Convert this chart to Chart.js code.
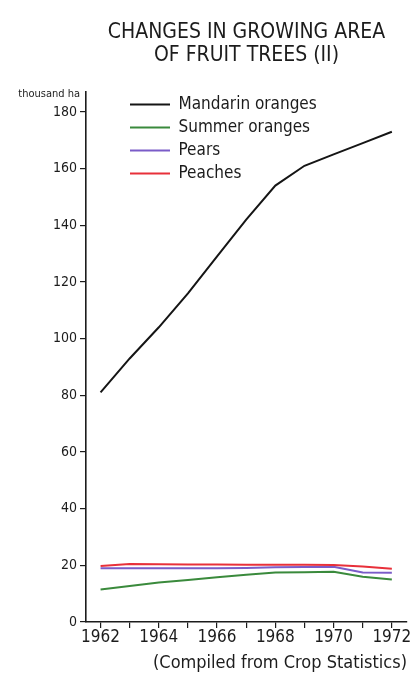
<!DOCTYPE html>
<html>
<head>
<meta charset="utf-8">
<script src="https://cdn.jsdelivr.net/npm/chart.js@4.4.1/dist/chart.umd.min.js"></script>
<style>
  html, body { margin: 0; padding: 0; background: #fff; }
  #wrap { width: 410px; height: 680px; }
</style>
</head>
<body>
<div id="wrap"><canvas id="fruitChart"></canvas></div>
<script>
// Values (thousand ha)
const years = [1962, 1963, 1964, 1965, 1966, 1967, 1968, 1969, 1970, 1971, 1972];
const tickLabels = ['1962', '', '1964', '', '1966', '', '1968', '', '1970', '', '1972'];
const mandarin = [81, 93, 104, 116, 129, 142, 154, 161, 165, 169, 173];
const summerOranges = [11.5, 12.7, 13.9, 14.8, 15.8, 16.7, 17.5, 17.6, 17.7, 16.0, 15.0];
const pears = [19.0, 19.0, 19.0, 19.0, 19.0, 19.1, 19.3, 19.4, 19.5, 17.5, 17.4];
const peaches = [19.8, 20.5, 20.4, 20.3, 20.3, 20.2, 20.2, 20.2, 20.1, 19.6, 18.8];

const FONT = '"Liberation Sans Narrow", "DejaVu Sans Condensed", "DejaVu Sans", sans-serif';
const INK = '#1c1c1c';

Chart.defaults.font.family = FONT;
Chart.defaults.color = INK;

const toPoints = (vals) => vals.map((v, i) => ({ x: years[i], y: v }));

const series = (label, vals, color, order) => ({
    label,
    data: toPoints(vals),
    borderColor: color,
    backgroundColor: color,
    pointBorderColor: color,
    pointBorderWidth: 2,
    order
});

// unit label above the y axis, and legend nudged into place
const extras = {
    id: 'extras',
    afterLayout(chart) {
        const area = chart.chartArea;
        chart.legend.left = area.left + 38;
        chart.legend.top = area.top - 2;
    },
    afterDraw(chart) {
        const ctx = chart.ctx;
        const y = chart.scales.y;
        ctx.save();
        ctx.font = `11px ${FONT}`;
        ctx.fillStyle = INK;
        ctx.textAlign = 'right';
        ctx.textBaseline = 'middle';
        ctx.fillText('thousand ha', y.right - 6, chart.chartArea.top + 2);
        ctx.restore();
    }
};

const ctx = document.getElementById('fruitChart').getContext('2d');
const fruitChart = new Chart(ctx, {
    type: 'line',
    data: {
        datasets: [
            series('Mandarin oranges', mandarin, '#151515', 0),
            series('Summer oranges', summerOranges, '#3a8a3c', 3),
            series('Pears', pears, '#7a5cc8', 2),
            series('Peaches', peaches, '#e8303a', 1)
        ]
    },
    options: {
        responsive: true,
        maintainAspectRatio: false,
        animation: false,
        layout: { padding: { left: 0, right: 3, top: 0, bottom: 0 } },
        elements: {
            point: { radius: 0 },
            line: { borderWidth: 2, tension: 0 }
        },
        scales: {
            x: {
                type: 'linear',
                min: 1961.5,
                max: 1972.52,
                afterFit: (s) => {
                    s.height = 24;
                    s.paddingLeft = 0;
                    s.paddingRight = 0;
                },
                grid: { drawOnChartArea: false, drawTicks: true, tickLength: 6, color: INK, lineWidth: 1.2 },
                border: { color: INK, width: 1.6 },
                ticks: {
                    stepSize: 1,
                    includeBounds: false,
                    autoSkip: false,
                    maxRotation: 0,
                    padding: 1,
                    font: { size: 17, lineHeight: 1 },
                    callback: (v) => tickLabels[years.indexOf(v)] ?? ''
                }
            },
            y: {
                min: 0,
                max: 187,
                afterFit: (s) => { s.width = 86; },
                grid: { drawOnChartArea: false, drawTicks: true, tickLength: 6, color: INK, lineWidth: 1.2 },
                border: { color: INK, width: 1.6 },
                ticks: { stepSize: 20, includeBounds: false, padding: 3, font: { size: 14 } }
            }
        },
        plugins: {
            title: {
                display: true,
                fullSize: false,
                text: ['CHANGES IN GROWING AREA', 'OF FRUIT TREES (II)'],
                color: INK,
                font: { size: 21, weight: 'normal', lineHeight: 1.05 },
                padding: { top: 22, bottom: 26 }
            },
            subtitle: {
                display: true,
                position: 'bottom',
                align: 'end',
                fullSize: true,
                text: '(Compiled from Crop Statistics)',
                color: INK,
                font: { size: 18, lineHeight: 1 },
                padding: { top: 8, bottom: 8 }
            },
            legend: {
                position: 'chartArea',
                align: 'start',
                labels: {
                    usePointStyle: true,
                    pointStyle: 'line',
                    pointStyleWidth: 40,
                    padding: 6,
                    color: INK,
                    font: { size: 17 },
                    sort: (a, b) => a.datasetIndex - b.datasetIndex
                }
            },
            tooltip: { enabled: false }
        }
    },
    plugins: [extras]
});
</script>
</body>
</html>
